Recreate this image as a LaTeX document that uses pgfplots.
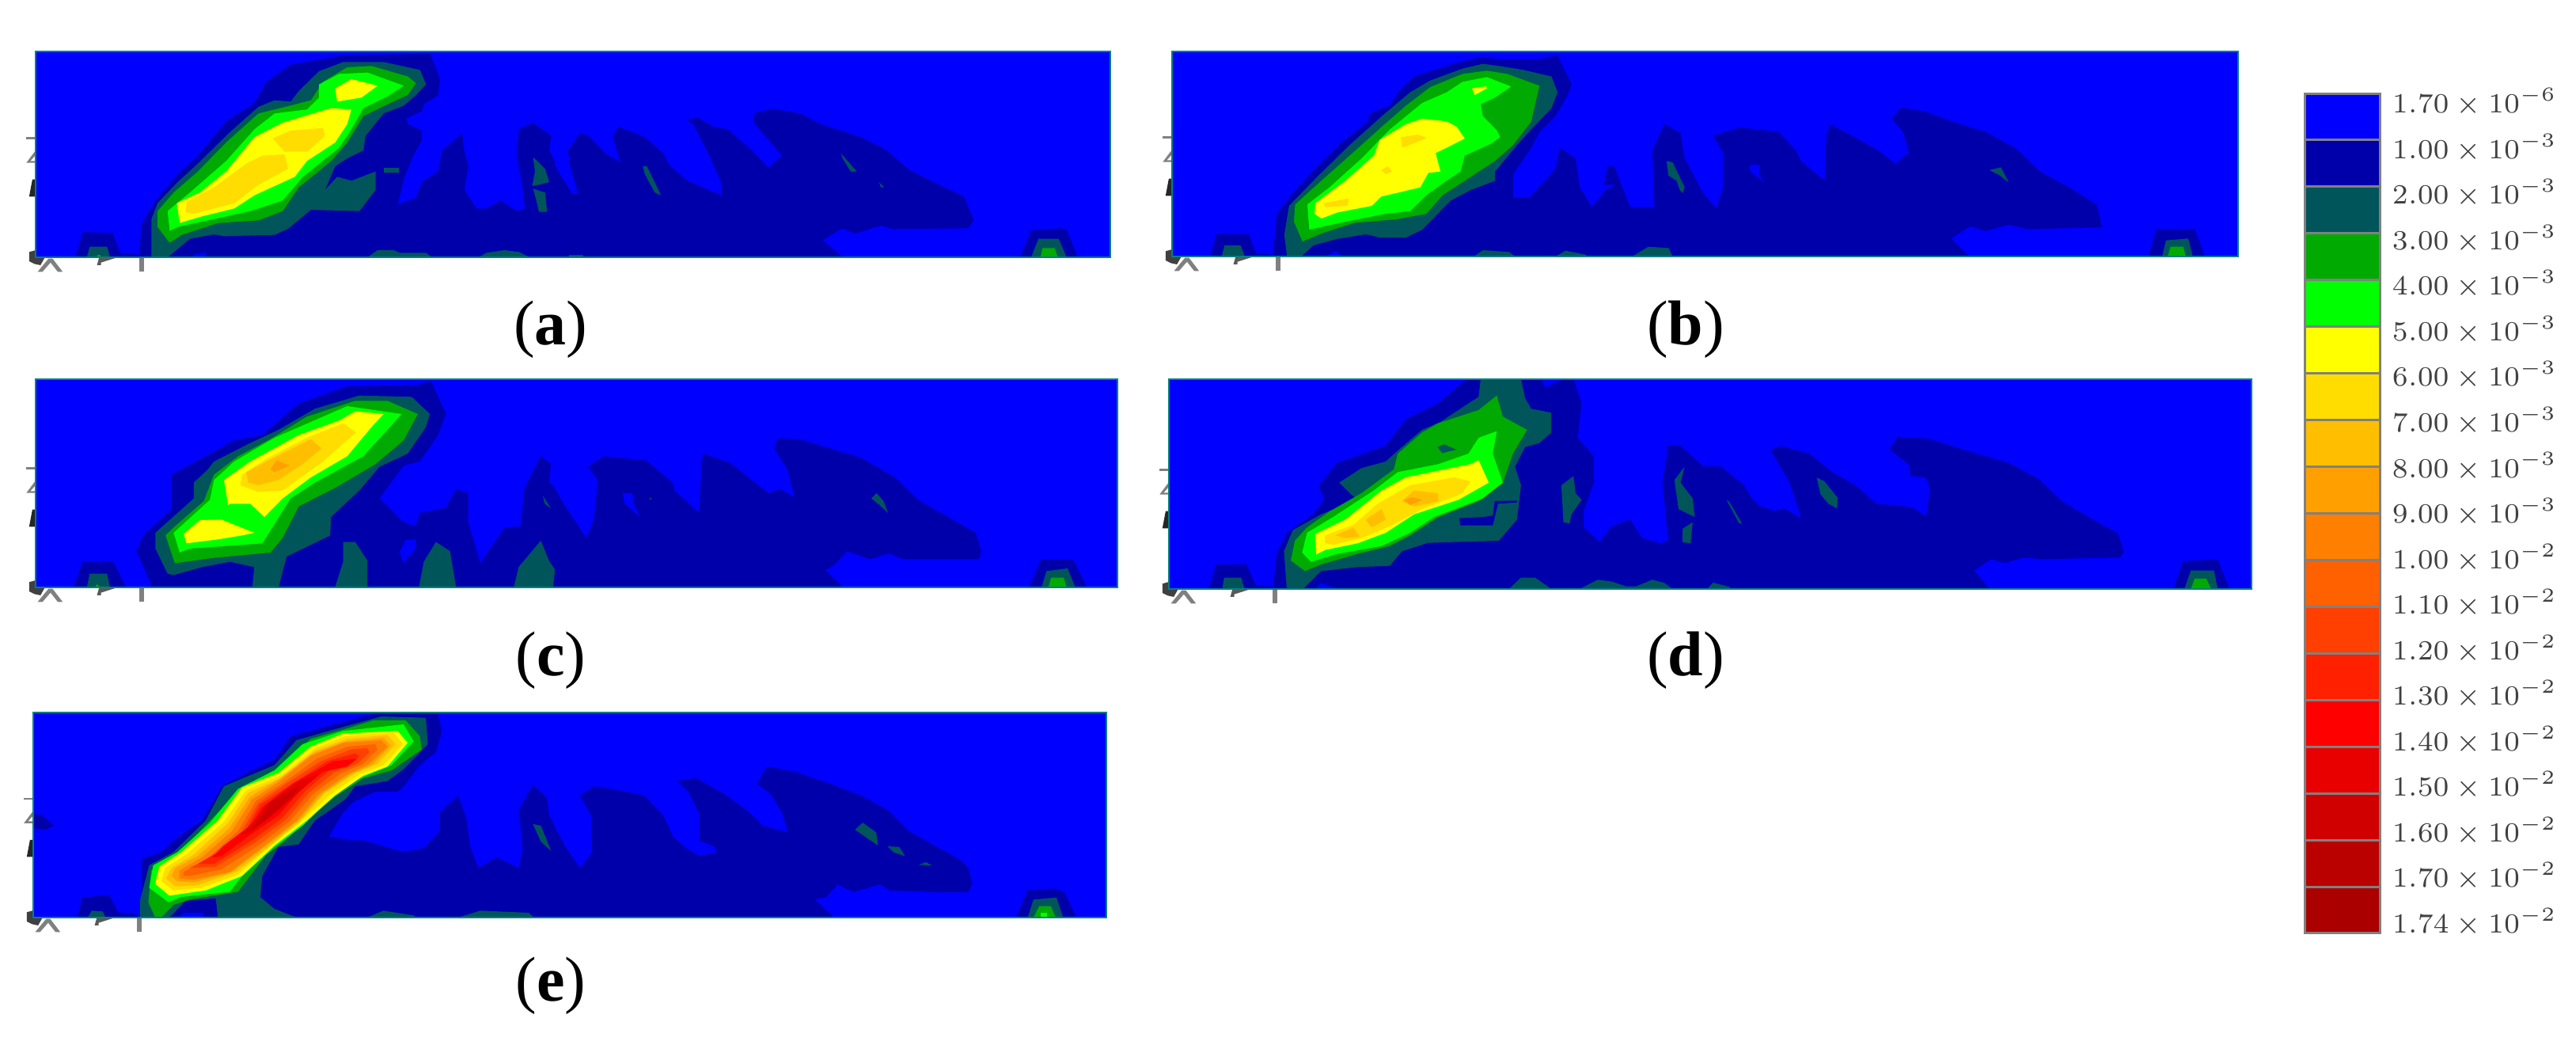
\documentclass[border=0pt]{standalone}
\usepackage{fontspec}
\setmainfont{Liberation Serif}
\usepackage{pgfplots}
\pgfplotsset{compat=1.18}
\definecolor{c0}{HTML}{0000FF}
\definecolor{c1}{HTML}{0000AA}
\definecolor{c2}{HTML}{00555A}
\definecolor{c3}{HTML}{00AA00}
\definecolor{c4}{HTML}{00FF00}
\definecolor{c5}{HTML}{FFFF00}
\definecolor{c6}{HTML}{FFDD00}
\definecolor{c7}{HTML}{FFBF00}
\definecolor{c8}{HTML}{FFA000}
\definecolor{c9}{HTML}{FF8000}
\definecolor{c10}{HTML}{FF6000}
\definecolor{c11}{HTML}{FF4000}
\definecolor{c12}{HTML}{FF2000}
\definecolor{c13}{HTML}{FF0000}
\definecolor{c14}{HTML}{E80000}
\definecolor{c15}{HTML}{D00000}
\definecolor{c16}{HTML}{BB0000}
\definecolor{c17}{HTML}{AA0000}
\definecolor{frameteal}{HTML}{008080}
\pgfplotsset{
  panel/.style n args={8}{
    anchor=south west, at={({#1*0.2pt},{(1320-#4)*0.2pt})},
    width={(#2-#1)*0.2pt}, height={(#4-#3)*0.2pt}, scale only axis,
    xmin=#5, xmax=#6, ymin=#7, ymax=#8, y dir=reverse,
    xtick=\empty, ytick=\empty},
  hid/.style={hide axis},
  fr/.style={axis on top, axis line style={frameteal, line width=0.55pt}},
}
\newcommand\Q[2]{\addplot[fill=#1,draw=none,forget plot] coordinates {#2};}
\newcommand\T[2]{\addplot[fill=#1,draw=none,forget plot,x filter/.expression={x+\tdx},y filter/.expression={y+\tdy}] coordinates {#2};}
\newcommand\triad[2]{\def\tdx{#1}\def\tdy{#2}%
  \T{gray}{(65,400)(88,400)(88,408)(65,408)}
  \T{gray}{(65,497)(88,450)(88,468)(75,490)(88,490)(88,497)}
  \T{black!85}{(72,625)(80,560)(88,560)(88,625)}
  \T{black!75}{(72,835)(88,828)(88,855)(110,858)(100,885)(85,880)(72,870)}
  \T{gray}{(93,910)(120,860)(130,860)(155,910)(143,910)(125,875)(105,910)}
  \T{black!65}{(240,885)(245,858)(285,858)(250,875)(250,885)}
  \T{gray}{(345,855)(357,855)(357,910)(345,910)}
}
\begin{document}
\begin{tikzpicture}
\path[use as bounding box] (0,0) rectangle (651pt,264pt);

% ---------- panel a
\begin{axis}[panel={45}{1403}{65}{325}{88}{2750}{75}{855},hid,clip=false]
\triad{0}{0}
\end{axis}
\begin{axis}[panel={45}{1403}{65}{325}{-1284}{1378}{75}{855},hid]
\Q{c0}{(-1284,75)(1378,75)(1378,855)(-1284,855)}
\Q{c1}{(0,500)(15,540)(45,615)(60,615)(40,510)(35,450)(65,385)(85,395)(130,465)(165,495)(145,395)(160,360)(225,400)(270,460)(285,505)(330,565)(415,620)(415,575)(385,470)(345,350)(330,335)(355,325)(395,360)(430,370)(490,450)(530,515)(565,470)(495,345)(495,310)(540,292)(610,310)(660,350)(760,400)(820,445)(880,525)(960,585)(1015,625)(1040,715)(1025,745)(840,748)(810,735)(745,765)(715,745)(665,790)(715,855)(0,855)}
\Q{c1}{(1155,855)(1182,752)(1255,745)(1270,750)(1297,855)}
\Q{c2}{(1182,855)(1200,785)(1250,785)(1270,855)}
\Q{c3}{(1205,855)(1210,820)(1240,820)(1248,855)}
\Q{c2}{(220,510)(230,510)(265,620)(250,610)(225,540)}
\Q{c2}{(710,460)(750,530)(735,530)(715,480)}
\Q{c2}{(805,570)(818,590)(810,590)}
\Q{c2}{(38,845)(72,845)(72,855)(38,855)}
\end{axis}
\begin{axis}[panel={45}{1403}{65}{325}{88}{2750}{75}{855},fr]
\Q{c1}{(345,855)(350,730)(385,640)(440,540)(490,470)(560,340)(630,270)(660,190)(720,125)(850,90)(1030,85)(1065,85)(1090,180)(1085,240)(1050,275)(1045,300)(1005,330)(1010,350)(1045,375)(1045,410)(1020,480)(1000,560)(985,655)(1030,630)(1045,570)(1085,530)(1095,450)(1145,385)(1148,440)(1160,510)(1150,600)(1180,670)(1205,670)(1240,640)(1280,680)(1300,670)(1295,600)(1280,470)(1285,370)(1320,345)(1365,395)(1360,450)(1374,490)(1374,855)}
\Q{c1}{(187,855)(205,760)(278,762)(298,840)(345,845)(345,855)}
\Q{c2}{(215,855)(222,815)(265,815)(272,855)}
\Q{c3}{(240,855)(240,845)(248,845)(248,855)}
\Q{c2}{(375,855)(375,710)(390,650)(440,570)(490,500)(570,380)(640,285)(680,260)(720,265)(740,225)(790,150)(850,115)(950,115)(1040,145)(1055,200)(1030,240)(1000,280)(950,310)(905,395)(900,450)(860,480)(830,510)(805,600)(835,550)(870,565)(930,530)(930,600)(890,680)(770,675)(715,745)(680,770)(555,775)(530,768)(470,785)(415,855)}
\Q{c2}{(950,517)(988,517)(988,533)(950,533)}
\Q{c2}{(910,855)(935,828)(975,828)(990,838)(1055,838)(1070,855)}
\Q{c2}{(1185,855)(1205,838)(1250,828)(1285,835)(1312,855)}
\Q{c2}{(1320,475)(1350,520)(1360,570)(1335,580)(1318,585)(1325,530)}
\Q{c2}{(1320,595)(1350,610)(1355,683)(1335,683)(1325,620)}
\Q{c0}{(478,855)(480,845)(510,835)(510,855)}
\Q{c3}{(420,800)(390,740)(390,680)(430,610)(490,530)(560,420)(640,310)(720,280)(770,260)(800,190)(860,135)(920,130)(1010,170)(1030,195)(1010,240)(960,275)(900,320)(860,420)(820,490)(740,590)(700,680)(640,715)(540,725)(450,770)}
\Q{c4}{(420,755)(415,680)(470,610)(560,490)(630,370)(680,310)(760,295)(790,250)(790,200)(840,160)(910,155)(1000,205)(960,245)(900,290)(870,370)(840,440)(750,550)(700,640)(620,680)(530,710)(440,740)}
\Q{c5}{(830,215)(870,180)(935,205)(895,250)(835,265)}
\Q{c5}{(445,725)(438,650)(495,610)(560,530)(630,400)(700,345)(820,290)(870,295)(860,350)(830,420)(760,490)(730,550)(630,620)(580,670)(500,700)}
\Q{c6}{(460,685)(462,645)(530,590)(610,500)(650,470)(705,465)(713,520)(640,580)(580,650)(480,690)}
\Q{c6}{(675,405)(720,375)(800,365)(805,395)(760,455)(705,455)}
\end{axis}

% ---------- panel b
\begin{axis}[panel={1481}{2828}{65}{324}{60}{2701}{75}{852},hid,clip=false]
\triad{-28}{-3}
\end{axis}
\begin{axis}[panel={1481}{2828}{65}{324}{-1381}{1398}{55}{603},hid]
\Q{c0}{(-1381,55)(1398,55)(1398,603)(-1381,603)}
\Q{c1}{(0,430)(38,475)(55,420)(55,325)(30,280)(100,258)(200,270)(245,320)(260,350)(320,400)(325,280)(335,250)(400,285)(460,320)(505,355)(540,325)(525,270)(495,235)(520,205)(580,215)(660,245)(740,270)(820,315)(880,375)(960,420)(1030,465)(1043,525)(850,530)(800,518)(740,535)(700,522)(650,555)(697,603)(0,603)}
\Q{c0}{(125,358)(150,358)(150,385)(162,405)(125,375)}
\Q{c2}{(750,372)(780,365)(800,405)(775,385)}
\Q{c1}{(1165,603)(1185,530)(1285,530)(1312,603)}
\Q{c2}{(1200,603)(1210,560)(1268,555)(1280,603)}
\Q{c3}{(1215,603)(1222,577)(1255,577)(1262,603)}
\end{axis}
\begin{axis}[panel={1481}{2828}{65}{324}{60}{2701}{75}{852},fr]
\Q{c1}{(310,852)(320,690)(355,620)(420,510)(480,420)(545,340)(550,310)(600,280)(620,230)(660,170)(760,120)(830,95)(870,105)(970,105)(1015,90)(1050,200)(1040,240)(1010,320)(970,380)(950,440)(905,540)(905,630)(945,630)(1010,520)(1020,440)(1060,480)(1070,590)(1100,665)(1135,600)(1160,580)(1130,580)(1140,510)(1155,510)(1195,665)(1255,665)(1250,450)(1280,350)(1320,385)(1330,480)(1374,609)(1374,852)}
\Q{c1}{(155,852)(170,768)(250,768)(268,840)(310,845)(310,852)}
\Q{c2}{(183,852)(190,810)(230,810)(240,852)}
\Q{c2}{(345,852)(338,770)(350,660)(420,550)(500,430)(580,320)(650,230)(700,185)(780,140)(830,122)(870,130)(930,145)(1000,170)(1015,230)(1000,290)(950,370)(920,420)(860,530)(860,565)(800,600)(750,640)(680,750)(640,780)(575,780)(540,768)(470,785)(410,810)(380,852)}
\Q{c3}{(383,795)(362,720)(365,655)(430,565)(500,470)(580,360)(640,280)(700,210)(780,160)(840,148)(890,160)(970,205)(950,340)(905,430)(860,490)(790,560)(730,620)(690,690)(620,710)(510,725)(430,765)}
\Q{c4}{(400,750)(395,655)(450,590)(530,480)(600,370)(680,270)(740,230)(780,190)(840,172)(900,208)(860,250)(825,275)(830,320)(865,375)(873,400)(850,425)(785,470)(775,530)(740,565)(690,620)(650,680)(590,690)(490,720)}
\Q{c5}{(430,708)(413,690)(415,650)(490,565)(560,470)(575,410)(640,350)(680,330)(740,340)(765,360)(785,405)(740,440)(713,460)(725,530)(695,535)(675,590)(620,610)(578,625)(555,660)(470,685)}
\Q{c5}{(803,215)(838,207)(840,215)(810,240)}
\Q{c6}{(435,650)(498,632)(495,660)(440,665)}
\Q{c6}{(627,400)(670,390)(692,403)(630,440)}
\Q{c6}{(578,525)(595,510)(605,530)(590,540)}
\Q{c0}{(440,852)(465,832)(485,852)}
\Q{c2}{(808,852)(830,828)(895,835)(910,852)}
\Q{c2}{(1010,852)(1035,830)(1085,845)(1088,852)}
\Q{c2}{(1200,852)(1240,815)(1290,820)(1300,852)}
\Q{c2}{(1285,490)(1300,495)(1330,590)(1325,612)(1318,600)(1310,565)(1290,545)}
\end{axis}

% ---------- panel c
\begin{axis}[panel={45}{1412}{479}{742}{88}{2769}{58}{847},hid,clip=false]
\triad{0}{-8}
\end{axis}
\begin{axis}[panel={45}{1412}{479}{742}{-1351}{1470}{58}{847},hid]
\Q{c0}{(-1351,58)(1470,58)(1470,847)(-1351,847)}
\Q{c1}{(0,465)(30,540)(85,660)(105,590)(115,440)(90,390)(130,350)(240,365)(310,450)(315,480)(380,565)(385,380)(390,340)(460,375)(560,490)(590,475)(628,505)(610,400)(575,320)(585,282)(640,285)(720,320)(800,355)(890,430)(950,515)(1040,590)(1100,640)(1115,710)(1108,740)(910,740)(875,718)(825,740)(765,710)(730,765)(708,780)(755,847)(0,847)}
\Q{c0}{(180,490)(205,490)(210,535)(225,580)(185,530)}
\Q{c2}{(828,510)(842,490)(860,520)(872,565)(850,535)}
\Q{c2}{(250,508)(255,508)(255,515)(250,515)}
\Q{c1}{(1240,847)(1270,742)(1355,742)(1390,847)}
\Q{c2}{(1272,847)(1285,785)(1340,775)(1360,847)}
\Q{c3}{(1290,847)(1297,810)(1330,810)(1337,847)}
\end{axis}
\begin{axis}[panel={45}{1412}{479}{742}{88}{2769}{58}{847},fr]
\Q{c1}{(378,847)(338,710)(355,650)(425,550)(425,420)(510,350)(580,290)(650,270)(740,150)(860,85)(1035,80)(1068,65)(1105,190)(1085,270)(1040,370)(1000,385)(940,510)(1000,600)(1030,615)(1040,565)(1105,545)(1130,475)(1160,490)(1160,600)(1172,660)(1190,755)(1250,620)(1290,615)(1300,470)(1340,350)(1365,380)(1360,450)(1374,465)(1374,847)}
\Q{c0}{(990,715)(1005,668)(1030,665)(1030,700)(1000,755)}
\Q{c1}{(182,847)(205,750)(280,750)(312,847)}
\Q{c2}{(215,847)(222,795)(265,795)(272,847)}
\Q{c3}{(235,847)(240,835)(248,847)}
\Q{c2}{(385,700)(385,640)(480,510)(480,450)(515,400)(530,370)(620,300)(690,250)(780,170)(890,120)(1020,125)(1065,190)(1055,240)(1010,340)(940,390)(890,480)(820,580)(818,650)(710,730)(690,847)(625,847)(630,770)(570,750)(500,770)(430,800)(415,795)}
\Q{c2}{(830,847)(850,750)(850,675)(880,675)(910,745)(910,847)}
\Q{c2}{(1038,847)(1050,750)(1080,675)(1115,710)(1130,847)}
\Q{c2}{(1273,847)(1285,770)(1340,670)(1360,745)(1375,780)(1370,847)}
\Q{c2}{(1345,500)(1365,548)(1350,530)}
\Q{c3}{(433,755)(410,650)(430,620)(505,520)(530,420)(590,350)(670,285)(760,200)(880,140)(960,140)(1035,190)(1000,290)(930,380)(830,470)(740,540)(700,660)(670,715)(530,735)}
\Q{c4}{(445,715)(430,640)(520,515)(530,440)(580,370)(680,280)(770,220)(860,160)(995,190)(960,250)(900,350)(780,450)(720,510)(650,680)(560,690)(470,700)}
\Q{c5}{(565,535)(555,440)(620,370)(740,270)(840,215)(880,180)(950,190)(920,240)(860,350)(770,430)(700,510)(655,580)(620,530)(570,530)}
\Q{c5}{(462,680)(455,645)(495,592)(548,590)(630,640)(600,650)(540,665)}
\Q{c6}{(595,460)(600,420)(660,360)(760,280)(850,225)(882,260)(800,370)(700,480)(640,485)}
\Q{c7}{(615,450)(610,410)(660,370)(770,285)(797,320)(750,380)(690,440)(640,460)}
\Q{c8}{(670,400)(685,365)(718,385)(680,410)}
\end{axis}

% ---------- panel d
\begin{axis}[panel={1477}{2845}{479}{744}{53}{2734}{58}{853},hid,clip=false]
\triad{-35}{-2}
\end{axis}
\begin{axis}[panel={1477}{2845}{479}{744}{-1388}{1433}{930}{1495},hid]
\Q{c0}{(-1388,930)(1433,930)(1433,1495)(-1388,1495)}
\Q{c1}{(0,1165)(50,1165)(110,1215)(130,1250)(150,1270)(190,1285)(215,1278)(260,1305)(230,1210)(180,1120)(205,1110)(280,1130)(340,1180)(400,1215)(455,1265)(550,1275)(585,1300)(595,1225)(585,1195)(545,1190)(540,1160)(490,1120)(510,1085)(590,1090)(700,1125)(800,1155)(880,1200)(940,1260)(1040,1320)(1085,1345)(1100,1395)(1090,1410)(890,1415)(840,1410)(790,1425)(755,1415)(710,1445)(750,1495)(0,1495)}
\Q{c1}{(1230,1495)(1255,1420)(1345,1415)(1375,1495)}
\Q{c2}{(1258,1495)(1275,1445)(1335,1445)(1345,1495)}
\Q{c3}{(1275,1495)(1285,1467)(1315,1467)(1328,1495)}
\Q{c2}{(300,1195)(320,1205)(355,1250)(353,1278)(330,1265)(310,1240)}
\Q{c2}{(65,1255)(72,1260)(105,1318)(98,1318)}
\Q{c2}{(15,1495)(30,1478)(75,1490)(75,1495)}
\end{axis}
\begin{axis}[panel={1477}{2845}{479}{744}{53}{2734}{58}{853},fr]
\Q{c1}{(310,853)(320,720)(345,640)(410,570)(438,515)(425,460)(470,375)(590,310)(640,210)(720,150)(790,58)(975,58)(985,90)(1030,58)(1055,58)(1075,150)(1065,280)(1105,350)(1105,450)(1080,560)(1080,620)(1120,675)(1150,615)(1195,590)(1225,660)(1270,680)(1290,670)(1275,450)(1290,310)(1320,310)(1374,385)(1374,853)}
\Q{c1}{(152,853)(170,760)(245,760)(268,840)(310,845)(310,853)}
\Q{c2}{(185,853)(190,810)(232,810)(240,853)}
\Q{c2}{(345,853)(338,710)(360,630)(430,570)(520,515)(505,495)(475,450)(530,395)(590,370)(630,315)(680,250)(725,220)(820,125)(825,58)(925,58)(935,130)(950,170)(1000,185)(1000,260)(970,300)(935,315)(910,390)(925,460)(915,590)(870,670)(695,678)(630,710)(600,765)(520,770)(430,785)(385,853)}
\Q{c1}{(860,520)(915,518)(915,525)(868,530)(855,612)(775,612)(772,585)(830,580)(855,575)}
\Q{c3}{(390,785)(355,745)(365,670)(395,620)(450,560)(530,490)(610,400)(620,340)(680,260)(720,225)(820,175)(865,120)(880,200)(940,250)(905,340)(880,450)(820,520)(720,580)(650,650)(600,690)(520,720)(430,760)}
\Q{c2}{(718,315)(735,305)(765,325)(730,338)}
\Q{c4}{(405,750)(383,715)(395,640)(460,580)(560,480)(620,410)(720,380)(795,340)(820,280)(865,255)(855,340)(880,450)(830,510)(710,580)(650,640)(580,690)(470,720)}
\Q{c5}{(418,722)(415,645)(490,590)(580,480)(640,430)(800,380)(820,365)(845,450)(770,515)(660,570)(590,640)(520,680)(440,705)}
\Q{c6}{(440,680)(440,650)(510,610)(570,530)(650,460)(760,430)(800,445)(780,490)(680,550)(600,615)(530,660)(460,685)}
\Q{c7}{(465,650)(510,620)(525,655)(490,660)}
\Q{c7}{(540,590)(580,550)(590,590)(555,620)}
\Q{c7}{(630,520)(660,480)(720,490)(720,520)(660,540)}
\Q{c8}{(635,515)(655,505)(680,515)(650,535)}
\Q{c2}{(1030,600)(1025,460)(1055,425)(1060,490)(1075,515)(1050,570)(1045,605)}
\Q{c2}{(1305,440)(1330,390)(1320,450)(1350,510)(1355,580)(1315,550)}
\Q{c2}{(1325,625)(1350,600)(1345,680)(1325,675)}
\Q{c2}{(895,853)(925,810)(960,810)(1000,853)}
\Q{c2}{(1070,853)(1115,818)(1150,825)(1185,843)(1210,843)(1250,818)(1280,830)(1300,853)}
\Q{c0}{(415,853)(430,830)(475,853)}
\end{axis}

% ---------- panel e
\begin{axis}[panel={42}{1398}{900}{1159}{83}{2740}{60}{838},hid,clip=false]
\triad{-5}{-17}
\end{axis}
\begin{axis}[panel={42}{1398}{900}{1159}{-1357}{1440}{60}{838},hid]
\Q{c0}{(-1357,60)(1440,60)(1440,838)(-1357,838)}
\Q{c1}{(0,490)(30,570)(68,650)(100,590)(97,450)(68,375)(105,340)(170,355)(235,375)(285,450)(310,530)(345,575)(380,605)(425,590)(420,570)(380,545)(378,440)(350,360)(322,320)(370,308)(450,375)(510,440)(545,490)(610,515)(595,440)(565,370)(530,330)(555,265)(630,285)(720,330)(800,375)(870,430)(925,510)(1060,620)(1080,650)(1090,710)(1080,742)(1000,742)(875,735)(850,712)(780,742)(740,712)(710,760)(680,770)(730,838)(0,838)}
\Q{c1}{(1205,838)(1235,735)(1305,728)(1330,740)(1362,838)}
\Q{c2}{(1235,838)(1250,770)(1310,762)(1327,838)}
\Q{c3}{(1250,838)(1265,795)(1295,795)(1308,838)}
\Q{c4}{(1268,838)(1268,820)(1285,820)(1285,838)}
\Q{c2}{(785,505)(805,478)(840,515)(845,565)(825,545)}
\Q{c2}{(870,568)(900,570)(915,605)(885,590)}
\Q{c2}{(950,638)(970,628)(985,640)}
\end{axis}
\begin{axis}[panel={42}{1398}{900}{1159}{83}{2740}{60}{838},fr]
\Q{c1}{(352,838)(352,615)(400,590)(440,535)(500,470)(550,340)(610,290)(680,240)(720,150)(840,100)(925,65)(1085,65)(1095,130)(1080,210)(1040,260)(1000,340)(985,362)(930,360)(875,400)(850,440)(815,530)(870,545)(900,545)(1000,590)(1050,575)(1090,510)(1090,440)(1135,375)(1155,460)(1165,570)(1185,650)(1230,610)(1285,650)(1295,580)(1285,430)(1320,335)(1355,385)(1360,450)(1374,490)(1374,838)}
\Q{c1}{(192,838)(205,762)(270,752)(295,820)(330,822)(352,838)}
\Q{c1}{(83,443)(105,450)(135,490)(110,505)(83,498)}
\Q{c2}{(218,838)(228,812)(255,815)(262,838)}
\Q{c2}{(348,838)(348,770)(370,640)(430,590)(510,470)(555,340)(680,260)(735,165)(850,115)(945,75)(1055,80)(1060,180)(1000,275)(960,320)(880,340)(855,390)(780,470)(740,560)(690,570)(650,680)(645,760)(680,805)(735,838)(540,838)(535,765)(460,775)(420,838)}
\Q{c0}{(445,838)(455,820)(505,820)(505,838)}
\Q{c2}{(910,838)(950,812)(1025,830)(1030,838)}
\Q{c2}{(1135,838)(1190,812)(1310,820)(1322,838)}
\Q{c2}{(1320,483)(1340,490)(1365,585)(1340,550)}
\Q{c3}{(385,838)(368,780)(375,660)(440,600)(540,440)(595,345)(690,275)(770,160)(850,125)(925,90)(1005,90)(1040,150)(1045,200)(970,280)(900,310)(830,380)(760,470)(700,555)(660,600)(590,740)(470,770)(430,790)(400,838)}
\Q{c4}{(418,780)(370,725)(380,640)(440,590)(520,480)(590,350)(680,280)(750,180)(850,130)(1000,105)(1025,170)(970,260)(890,310)(830,370)(750,490)(680,570)(600,680)(570,740)(450,760)}
\Q{c5}{(420,755)(385,710)(395,645)(450,590)(540,470)(600,345)(690,290)(770,190)(850,140)(985,130)(1010,175)(960,265)(900,300)(830,375)(760,470)(680,565)(600,680)(510,735)}
\Q{c6}{(430,735)(400,700)(410,650)(465,595)(555,475)(610,355)(700,295)(780,195)(855,150)(975,135)(998,180)(950,260)(890,295)(820,370)(745,475)(670,565)(590,675)(500,725)}
\Q{c7}{(435,720)(412,690)(425,650)(480,600)(565,480)(615,365)(700,305)(780,205)(860,160)(960,145)(980,180)(935,255)(880,290)(805,365)(745,470)(670,565)(585,665)(490,715)}
\Q{c8}{(440,700)(425,680)(435,650)(490,605)(568,500)(620,380)(690,315)(775,215)(855,170)(950,155)(968,185)(925,255)(870,292)(798,368)(740,470)(665,560)(575,665)(480,705)}
\Q{c9}{(445,690)(445,660)(500,610)(575,510)(625,390)(690,325)(770,225)(850,175)(945,165)(960,190)(915,255)(860,295)(790,370)(735,470)(660,560)(570,665)(480,695)}
\Q{c10}{(455,680)(455,665)(510,620)(590,510)(635,395)(700,330)(785,235)(860,190)(930,180)(935,200)(900,255)(845,290)(775,370)(720,470)(645,560)(550,655)(470,680)}
\Q{c11}{(470,650)(525,610)(600,510)(640,405)(705,335)(795,245)(870,200)(910,195)(915,210)(885,255)(830,285)(765,365)(710,465)(635,550)(535,645)}
\Q{c12}{(490,635)(540,590)(610,505)(645,410)(715,340)(810,245)(880,215)(890,225)(870,255)(815,280)(755,360)(700,460)(625,545)(530,635)}
\Q{c13}{(525,610)(555,565)(620,490)(650,420)(725,330)(825,245)(885,235)(860,265)(800,285)(745,355)(690,450)(615,530)(550,605)}
\Q{c14}{(595,525)(635,465)(660,410)(740,320)(790,295)(750,350)(680,445)(620,515)}
\Q{c15}{(620,510)(650,450)(670,400)(710,365)(745,335)(720,385)(665,460)}
\end{axis}

% ---------- colour scale
\begin{axis}[panel={2913}{3008}{118}{1179}{0}{1}{0}{18},
  axis line style={gray,line width=0.6pt}, axis on top,
  yticklabel pos=right, major tick length=0pt,
  ytick={0.187,1.163,2.139,3.115,4.091,5.067,6.043,7.019,7.995,8.971,9.947,10.923,11.899,12.875,13.851,14.827,15.803,16.779,17.755},
  yticklabels={$1.70\times10^{-6}$,$1.00\times10^{-3}$,$2.00\times10^{-3}$,$3.00\times10^{-3}$,$4.00\times10^{-3}$,$5.00\times10^{-3}$,$6.00\times10^{-3}$,$7.00\times10^{-3}$,$8.00\times10^{-3}$,$9.00\times10^{-3}$,$1.00\times10^{-2}$,$1.10\times10^{-2}$,$1.20\times10^{-2}$,$1.30\times10^{-2}$,$1.40\times10^{-2}$,$1.50\times10^{-2}$,$1.60\times10^{-2}$,$1.70\times10^{-2}$,$1.74\times10^{-2}$},
  yticklabel style={font=\fontsize{7.2}{9}\selectfont, text=black!75, anchor=west, inner sep=0pt, xshift=2.8pt}]
\pgfplotsinvokeforeach{0,...,17}{
  \addplot[fill=c#1,draw=gray,line width=0.6pt,forget plot] coordinates {(0,#1)(1,#1)(1,#1+1)(0,#1+1)(0,#1)};
}
\end{axis}

\node[font=\fontsize{16}{18}\selectfont] at ({696*0.2pt},{(1320-416)*0.2pt}) {(\textbf{a})};
\node[font=\fontsize{16}{18}\selectfont] at ({2130*0.2pt},{(1320-416)*0.2pt}) {(\textbf{b})};
\node[font=\fontsize{16}{18}\selectfont] at ({696*0.2pt},{(1320-834)*0.2pt}) {(\textbf{c})};
\node[font=\fontsize{16}{18}\selectfont] at ({2130*0.2pt},{(1320-834)*0.2pt}) {(\textbf{d})};
\node[font=\fontsize{16}{18}\selectfont] at ({696*0.2pt},{(1320-1245)*0.2pt}) {(\textbf{e})};
\end{tikzpicture}
\end{document}
